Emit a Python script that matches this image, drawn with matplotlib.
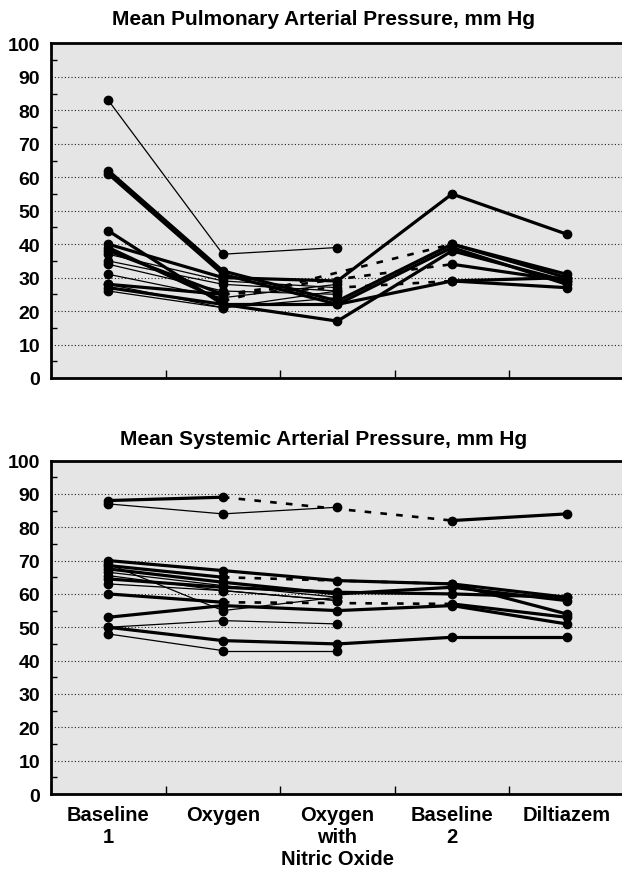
import numpy as np
import matplotlib.pyplot as plt

plt.rcParams['font.family'] = ['Liberation Sans', 'DejaVu Sans']
plt.rcParams['font.weight'] = 'bold'

condiciones = ["Baseline\n1", "Oxygen", "Oxygen\nwith\nNitric Oxide", "Baseline\n2", "Diltiazem"]

# Presion arterial pulmonar media (mm Hg), un paciente por fila, None = sin dato
pap = [
    [83, 37, 39, None, None],
    [62, 32, 23, 40, 30],
    [61, 31, 22, 39, 28],
    [44, 22, 17, 38, 29],
    [40, 30, 29, 55, 43],
    [39, 23, None, 40, 31],
    [38, 25, None, 34, 29],
    [28, 25, None, 29, 27],
    [27, 22, 22, 29, 30],
    [37, 29, 27, None, None],
    [35, 28, 26, None, None],
    [34, 26, 25, None, None],
    [31, 24, 28, None, None],
    [28, 21, 24, None, None],
    [26, 21, 26, None, None],
]
pap_grueso = [False, True, True, True, True, True, True, True, True,
              False, False, False, False, False, False]

# Presion arterial sistemica media (mm Hg)
sap = [
    [88, 89, None, 82, 84],
    [87, 84, 86, None, None],
    [70, 67, 64, 63, 54],
    [69, 55, 59, None, None],
    [68.5, 65, None, 63, 59],
    [67.5, 63.5, 60, 62, 58],
    [66.5, 62.5, 59, None, None],
    [65.5, 61, 58, None, None],
    [64.5, 62, 60.5, 60, 59],
    [63, 61, 58, None, None],
    [53, 56.5, 55, 56.5, 51],
    [60, 57.5, None, 57, 53],
    [50, 52, 51, None, None],
    [50, 46, 45, 47, 47],
    [48, 43, 43, None, None],
]
sap_grueso = [True, False, True, False, True, True, False, False, True,
              False, True, True, False, True, False]


def dibujarPanel(ax, datos, gruesos):
    ax.set_facecolor('#e5e5e5')
    for valores, grueso in zip(datos, gruesos):
        lw = 2.3 if grueso else 0.9
        idx = [i for i, v in enumerate(valores) if v is not None]
        for a, b in zip(idx[:-1], idx[1:]):
            if b - a == 1:
                ax.plot([a + 1, b + 1], [valores[a], valores[b]], color='black', lw=lw, zorder=3)
            else:
                # tramo sin dato intermedio -> discontinuo
                ax.plot([a + 1, b + 1], [valores[a], valores[b]], color='black', lw=1.9,
                        linestyle=(0, (2.5, 3.5)), zorder=3)
        ax.plot([i + 1 for i in idx], [valores[i] for i in idx], 'o', color='black',
                markersize=6, zorder=4)

    ax.set_xlim(0.5, 5.5)
    ax.set_ylim(0, 100)
    ax.set_yticks(np.arange(0, 101, 10))
    ax.set_yticks(np.arange(5, 100, 10), minor=True)
    for y in range(10, 100, 10):
        ax.axhline(y, color='#222222', lw=0.8, linestyle=(0, (1, 2)), zorder=1)
    ax.tick_params(axis='y', which='major', length=0, pad=8, labelsize=14)
    ax.tick_params(axis='y', which='minor', direction='in', length=4, width=1)
    ax.set_xticks([1.5, 2.5, 3.5, 4.5])
    ax.set_xticks([1, 2, 3, 4, 5], minor=True)
    ax.tick_params(axis='x', which='major', direction='in', length=6, width=1, labelbottom=False)
    ax.tick_params(axis='x', which='minor', length=0)
    for lado in ['left', 'bottom', 'top']:
        ax.spines[lado].set_linewidth(2)
    ax.spines['right'].set_visible(False)


fig = plt.figure(figsize=(6.22, 8.70), dpi=100)
ax1 = fig.add_axes([0.082, 0.5644, 0.921, 0.3845])
ax2 = fig.add_axes([0.082, 0.0862, 0.921, 0.3833])

dibujarPanel(ax1, pap, pap_grueso)
dibujarPanel(ax2, sap, sap_grueso)

ax2.set_xticklabels(condiciones, minor=True, fontsize=14.5, fontweight='bold',
                    verticalalignment='top', linespacing=1.2)
ax2.tick_params(axis='x', which='minor', pad=8, labelbottom=True)

fig.text(0.52, 0.978, "Mean Pulmonary Arterial Pressure, mm Hg", ha='center', va='center',
         fontsize=15, fontweight='bold')
fig.text(0.52, 0.495, "Mean Systemic Arterial Pressure, mm Hg", ha='center', va='center',
         fontsize=15, fontweight='bold')

plt.savefig('out.png', dpi=100)
